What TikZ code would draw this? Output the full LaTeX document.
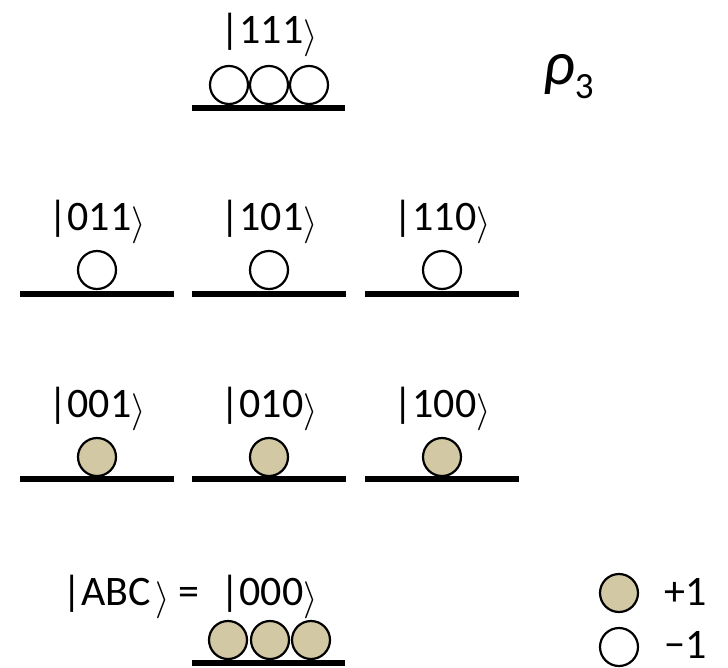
\RequirePackage{fix-cm}
\documentclass[tikz,border=0pt]{standalone}
\usepackage{fontspec}
\setmainfont{Carlito}
\usepackage{tikz}
\usetikzlibrary{positioning}

\definecolor{spinup}{RGB}{210,201,164}
\newcommand{\ket}[1]{|#1\raisebox{-4.5pt}{\resizebox*{!}{37pt}{$\rangle$}}}

\begin{document}
\begin{tikzpicture}[x=1pt,y=-1pt,
  font=\fontsize{42}{48}\selectfont,
  level/.style={line width=5.5pt},
  plus/.style={circle,draw,line width=2.2pt,fill=spinup,minimum size=38pt,inner sep=0pt},
  minus/.style={plus,fill=white},
  lbl/.style={anchor=base,inner sep=0pt}]
\useasboundingbox (0,0) rectangle (728,667);
% top level
\node[lbl] (k111) at (269,43) {\ket{111}};
\foreach \i/\x in {1/229,2/269,3/309}
  \node[minus] (t\i) at (\x,85) {};
\draw[level] (192,108) -- (345,108);
\node[anchor=base west,inner sep=0pt] (rho) at (543,84)
  {\fontsize{62}{64}\selectfont\itshape ρ\upshape\raisebox{-14pt}{\fontsize{37}{37}\selectfont 3}};
% one and two flips
\foreach \s/\x in {011/97,101/269,110/442} {
  \node[lbl] (k\s) at (\x,230) {\ket{\s}};
  \node[minus] (c\s) at (\x,270) {};
  \draw[level] (\x-77,294) -- (\x+77,294);
}
\foreach \s/\x in {001/97,010/269,100/442} {
  \node[lbl] (k\s) at (\x,417) {\ket{\s}};
  \node[plus] (c\s) at (\x,457) {};
  \draw[level] (\x-77,479) -- (\x+77,479);
}
% ground level
\node[lbl] (k000) at (269,605) {\ket{000}};
\node[anchor=base east,inner sep=0pt] (kABC) at ([xshift=-20pt]k000.base west) {\ket{ABC\kern4pt} =};
\foreach \i/\x in {1/228,2/270,3/311}
  \node[plus] (b\i) at (\x,640) {};
\draw[level] (192,663) -- (345,663);
% legend
\node[plus] (lp) at (619,593) {};
\node[anchor=base west,inner sep=0pt] (lpt) at (664,605) {+1};
\node[minus] (lm) at (619,647) {};
\node[anchor=base west,inner sep=0pt] (lmt) at (664,658) {−1};
\end{tikzpicture}
\end{document}
